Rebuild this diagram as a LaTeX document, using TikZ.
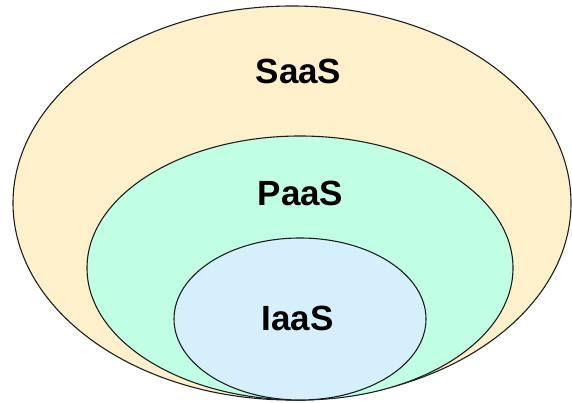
\documentclass[tikz,border=0pt]{standalone}
\usepackage{fontspec}
\setmainfont{Liberation Sans}
\usetikzlibrary{shapes.geometric}
\definecolor{saasfill}{RGB}{255,240,204}
\definecolor{paasfill}{RGB}{192,255,228}
\definecolor{iaasfill}{RGB}{213,240,252}
\definecolor{edgecol}{RGB}{30,30,30}
\tikzset{
  layer/.style={ellipse, draw=edgecol, line width=1.1pt, inner sep=0pt},
  lbl/.style={font=\fontsize{35}{40}\selectfont\bfseries, text=black, inner sep=0pt}
}
\begin{document}
\begin{tikzpicture}[x=1pt,y=-1pt]
\useasboundingbox (0,0) rectangle (572,403);
\node[layer, fill=saasfill, minimum width=558pt, minimum height=394pt] (saas) at (292,203) {};
\node[layer, fill=paasfill, minimum width=426pt, minimum height=264pt] (paas) at (300,268) {};
\node[layer, fill=iaasfill, minimum width=252pt, minimum height=162pt] (iaas) at (300,319) {};
\node[lbl] (saastext) at (298.5,71.5) {SaaS};
\node[lbl] (paastext) at (300.5,193) {PaaS};
\node[lbl] (iaastext) at (297.5,318) {IaaS};
\end{tikzpicture}
\end{document}
